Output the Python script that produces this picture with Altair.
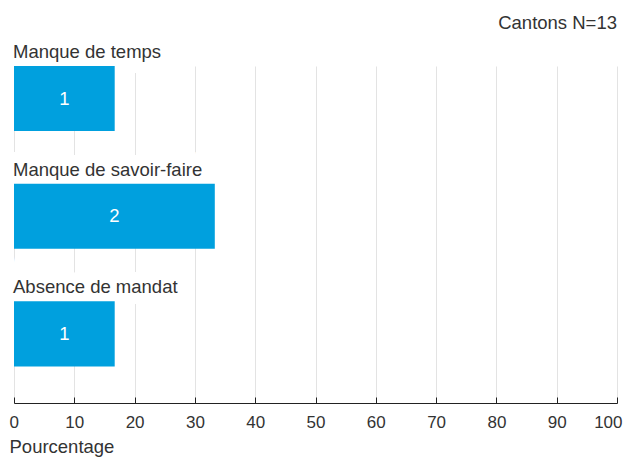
import altair as alt
import pandas as pd

categories = ["Manque de temps", "Manque de savoir-faire", "Absence de mandat"]
counts = [1, 2, 1]
percentages = [16.7, 33.3, 16.7]
x_ticks = [0, 10, 20, 30, 40, 50, 60, 70, 80, 90, 100]

df = pd.DataFrame({"cat": categories, "n": counts, "pct": percentages})

FONT = "Liberation Sans"
TXT = "#333333"
BLUE = "#00a0de"
FS = 18.5

yscale = alt.Scale(domain=categories, paddingInner=0.447, paddingOuter=0.1555, align=0)
xscale = alt.Scale(domain=[0, 100], nice=False)

base = alt.Chart(df)

halo = base.mark_text(
    align="left", baseline="alphabetic", dy=-8, dx=-1, font=FONT, fontSize=FS,
    fill="white", stroke="white", strokeWidth=22, strokeJoin="miter"
).encode(
    x=alt.value(0),
    y=alt.Y("cat:N", scale=yscale, axis=None, bandPosition=0),
    text="cat:N",
)

bars = base.mark_bar(color=BLUE).encode(
    x=alt.X(
        "pct:Q", scale=xscale,
        axis=alt.Axis(
            orient="bottom", values=x_ticks, grid=True, gridColor="#e3e3e3", gridWidth=1,
            domain=False, ticks=False, tickSize=0, labelPadding=11,
            labelFlush=True, labelFlushOffset=5,
            labelFont=FONT, labelFontSize=17, labelColor=TXT,
            title="Pourcentage", titleFont=FONT, titleFontSize=FS, titleFontWeight="normal",
            titleColor=TXT, titleAnchor="start", titleAlign="left", titleBaseline="alphabetic",
            titleX=-5, titleY=49,
        ),
    ),
    y=alt.Y("cat:N", scale=yscale, axis=None),
)

frame = base.mark_bar(opacity=0).encode(
    x=alt.X(
        "pct:Q", scale=xscale,
        axis=alt.Axis(
            orient="top", offset=-337, values=x_ticks, grid=False, labels=False,
            domain=True, domainColor="#222222", domainWidth=1,
            ticks=True, tickSize=6, tickColor="#222222", tickWidth=1, title=None,
        ),
    ),
    y=alt.Y("cat:N", scale=yscale, axis=None),
)

labels = base.mark_text(
    align="left", baseline="alphabetic", dy=-8, dx=-1, font=FONT, fontSize=FS, color=TXT
).encode(
    x=alt.value(0),
    y=alt.Y("cat:N", scale=yscale, axis=None, bandPosition=0),
    text="cat:N",
)

values = base.transform_calculate(mid="datum.pct / 2").mark_text(
    align="center", baseline="middle", font=FONT, fontSize=FS, color="white"
).encode(
    x=alt.X("mid:Q", scale=xscale, axis=None),
    y=alt.Y("cat:N", scale=yscale, axis=None),
    text="n:Q",
)

chart = alt.layer(halo, bars, frame, labels, values).resolve_axis(x="independent").properties(
    width=603,
    height=337,
    title=alt.TitleParams(
        "Cantons N=13", anchor="end", frame="group", font=FONT, fontSize=FS,
        fontWeight="normal", color=TXT, baseline="alphabetic", offset=4, dy=8,
    ),
    autosize=alt.AutoSizeParams(type="none"),
    padding={"left": 6, "top": 58, "right": 7, "bottom": 60},
).configure_view(stroke=None)

chart.save("out.html", embed_options={"renderer": "svg", "actions": False})
